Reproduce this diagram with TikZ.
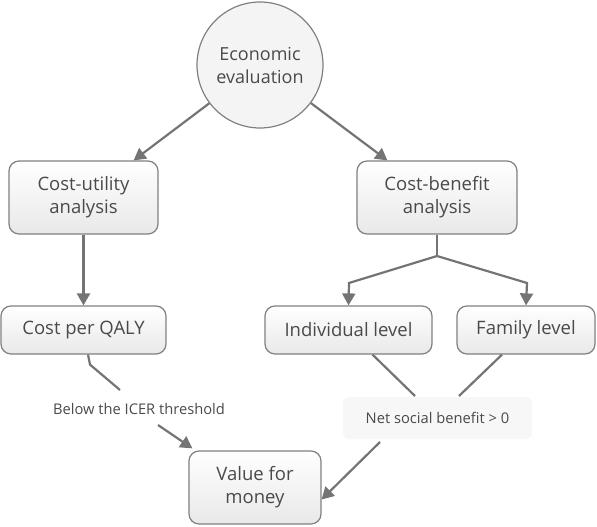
\documentclass[tikz,border=0pt]{standalone}
\usepackage{fontspec}
\setmainfont{Open Sans}
\usetikzlibrary{arrows.meta,calc}
\definecolor{txt}{HTML}{4A4A4A}
\definecolor{edge}{HTML}{747474}
\definecolor{bord}{HTML}{808080}
\definecolor{boxfill}{HTML}{F4F4F4}
\definecolor{lblfill}{HTML}{F7F7F7}
\tikzset{
  box/.style={draw=bord, line width=1.2pt, rounded corners=10pt, top color=white, bottom color=boxfill!90!gray,
    text=txt, font=\fontsize{18.5}{23}\selectfont, align=center, inner sep=0pt},
  circ/.style={draw=bord, line width=1.2pt, circle, fill=boxfill, text=txt,
    font=\fontsize{18}{23}\selectfont, align=center, inner sep=0pt, minimum size=126pt},
  lbl/.style={text=txt, font=\fontsize{14.7}{18}\selectfont, inner sep=0pt},
  conn/.style={draw=edge, line width=2.2pt},
  arr/.style={conn, -{Triangle[length=12pt,width=13pt]}},
}
\begin{document}
\begin{tikzpicture}[x=1pt,y=-1pt]
\useasboundingbox (0,0) rectangle (597,527);
\node[circ] (ee) at (260,65) {Economic\\evaluation};
\node[box, minimum width=149pt, minimum height=73pt] (cu) at (83.5,197.5) {Cost-utility\\analysis};
\node[box, minimum width=160pt, minimum height=73pt] (cb) at (437,197.5) {Cost-benefit\\analysis};
\node[box, minimum width=165pt, minimum height=48pt] (cpq) at (83.5,330) {Cost per QALY};
\node[box, minimum width=167pt, minimum height=48pt] (ind) at (348.5,330) {Individual level};
\node[box, minimum width=138pt, minimum height=48pt] (fam) at (526,330) {Family level};
\node[lbl, fill=lblfill, rounded corners=6pt, minimum width=189pt, minimum height=42pt] (nsb) at (437.5,418) {Net social benefit > 0};
\node[lbl] (icer) at (139,409) {Below the ICER threshold};
\node[box, minimum width=132pt, minimum height=73pt] (vfm) at (255,487.5) {Value for\\money};

\coordinate (split) at (437,256);
\coordinate (bl) at (349,283);
\coordinate (br) at (527,283);
\coordinate (icerin) at (120,390);
\coordinate (icerout) at (158,425);
\coordinate (indout) at (415,396);
\coordinate (famout) at (459,396);
\coordinate (nsbout) at (380,442);

\draw[arr] (ee) -- ([xshift=-25pt]cu.north east);
\draw[arr] (ee) -- ([xshift=31pt]cb.north west);
\draw[arr] (cu.south) -- (cpq.north);
\draw[conn] (cb.south) -- (split);
\draw[arr] (split) -- (bl) -- (ind.north);
\draw[arr] (split) -- (br) -- (fam.north);
\draw[conn] ([xshift=4.5pt]cpq.south) -- ++(2,10) -- (icerin);
\draw[arr] (icerout) -- ([xshift=4pt,yshift=2pt]vfm.north west);
\draw[conn] ([xshift=24pt]ind.south) -- (indout);
\draw[conn] ([xshift=-24pt]fam.south) -- (famout);
\draw[arr] (nsbout) -- ([yshift=-12pt]vfm.east);
\end{tikzpicture}
\end{document}
